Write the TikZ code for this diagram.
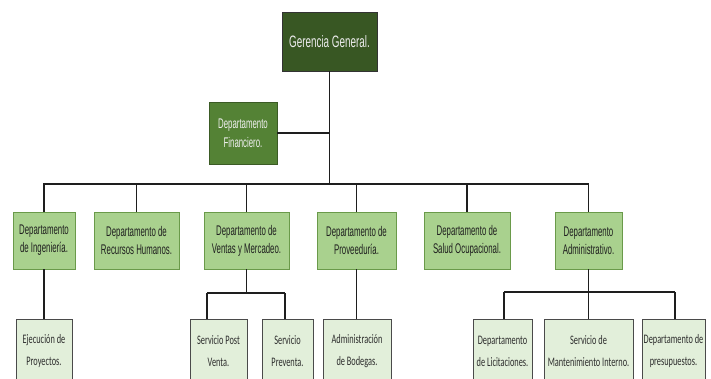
\documentclass[tikz,border=0pt]{standalone}
\usepackage{fontspec}
\setmainfont{Liberation Sans}
\newfontfamily\boxfont[FakeStretch=0.56]{Liberation Sans}
\newfontfamily\topfont[FakeStretch=0.60]{Liberation Sans}
\newfontfamily\subfont[FakeStretch=0.64]{Carlito}
\definecolor{topgreen}{HTML}{385723}
\definecolor{midgreen}{HTML}{548235}
\definecolor{deptgreen}{HTML}{A9D18E}
\definecolor{deptedge}{HTML}{6A9A4A}
\definecolor{subgreen}{HTML}{E2EFDA}
\definecolor{subedge}{HTML}{4A4A4A}
\definecolor{wire}{HTML}{1E1E1E}
\tikzset{
  base/.style={rectangle, inner sep=0pt, align=center, line width=0.8pt},
  topbox/.style={base, fill=topgreen, draw=black!80, text=white!92!black,
    font=\topfont\fontsize{16.5}{19}\selectfont},
  finbox/.style={base, fill=midgreen, draw=midgreen!70!black, text=white!94!black,
    font=\boxfont\fontsize{14}{19}\selectfont},
  deptbox/.style={base, fill=deptgreen, draw=deptedge, text=black!88,
    font=\boxfont\fontsize{14}{18}\selectfont, minimum height=57pt},
  subbox/.style={base, fill=subgreen, draw=subedge, text=black!82,
    font=\subfont\fontsize{13}{22}\selectfont, minimum height=64pt},
  link/.style={draw=wire, line width=1.8pt}
}
\begin{document}
\begin{tikzpicture}[x=1pt, y=-1pt]
\useasboundingbox (0,0) rectangle (711,379);

% top management
\node[topbox, minimum width=95pt, minimum height=59pt] (ger) at (329.5,41.5) {Gerencia General.};
\node[finbox, minimum width=68pt, minimum height=62pt] (fin) at (243,133) {Departamento\\Financiero.};

% departments
\node[deptbox, minimum width=62pt] (ing) at (44,240.5) {Departamento\\de Ingeniería.};
\node[deptbox, minimum width=85pt] (rrhh) at (136.5,240.5) {Departamento de\\Recursos Humanos.};
\node[deptbox, minimum width=85pt] (ven) at (246.5,240.5) {Departamento de\\Ventas y Mercadeo.};
\node[deptbox, minimum width=79pt] (prov) at (356.5,240.5) {Departamento de\\Proveeduría.};
\node[deptbox, minimum width=86pt] (sal) at (467,240.5) {Departamento de\\Salud Ocupacional.};
\node[deptbox, minimum width=67pt] (adm) at (588.5,240.5) {Departamento\\Administrativo.};

% sub-units
\node[subbox, minimum width=56pt] (eje) at (44,351) {Ejecución de\\Proyectos.};
\node[subbox, minimum width=57pt] (post) at (218.5,351) {Servicio Post\\Venta.};
\node[subbox, minimum width=51pt] (prev) at (287.5,351) {Servicio\\Preventa.};
\node[subbox, minimum width=68pt] (bod) at (357,351) {Administración\\de Bodegas.};
\node[subbox, minimum width=59pt] (lic) at (502.5,351) {Departamento\\de Licitaciones.};
\node[subbox, minimum width=89pt] (man) at (588.5,351) {Servicio de\\Mantenimiento Interno.};
\node[subbox, minimum width=63pt] (pre) at (673.5,351) {Departamento de\\presupuestos.};

% junction points
\coordinate (bar) at (329.5,184);
\coordinate (vsplit) at (246.5,293);
\coordinate (vl) at (207,293);
\coordinate (vr) at (285,293);
\coordinate (asplit) at (588.5,292);
\coordinate (al) at (504,292);
\coordinate (ar) at (675,292);

% main trunk and staff branch
\draw[link] (ger.south) -- (bar);
\draw[link] (fin.east) -- (fin.east -| ger.south);

% department bus
\foreach \d in {ing,rrhh,ven,prov,sal,adm}
  \draw[link] (bar) -| (\d.north);

% single children
\draw[link] (ing.south) -- (eje.north);
\draw[link] (prov.south) -- (prov.south |- bod.north);

% sales branch
\draw[link] (ven.south) -- (vsplit);
\draw[link] (vl) -- (vr);
\draw[link] (vl) -- (vl |- post.north);
\draw[link] (vr) -- (vr |- prev.north);

% administrative branch
\draw[link] (adm.south) -- (asplit);
\draw[link] (al) -- (ar);
\draw[link] (al) -- (al |- lic.north);
\draw[link] (asplit) -- (man.north);
\draw[link] (ar) -- (ar |- pre.north);
\end{tikzpicture}
\end{document}
